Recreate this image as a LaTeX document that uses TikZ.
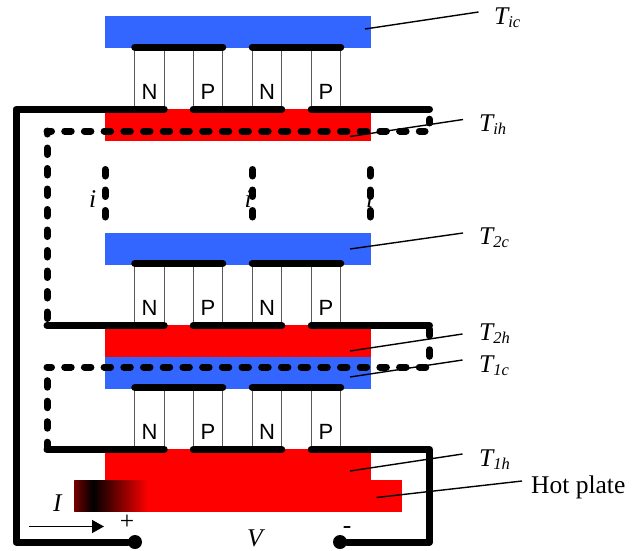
\documentclass[tikz,border=0pt]{standalone}
\usepackage{fontspec}
\setmainfont{Liberation Serif}
\setsansfont{Liberation Sans}
\usetikzlibrary{arrows.meta}
\definecolor{plateblue}{HTML}{3366FF}
\definecolor{platered}{HTML}{FF0000}
\newcommand{\Tsub}[1]{\textit{T}\kern-1.5pt\raisebox{-3.5pt}{\fontsize{16.5}{17}\selectfont\textit{#1}}}
\begin{document}
\begin{tikzpicture}[
  x=1pt, y=-1pt,
  coldplate/.style={fill=plateblue, minimum width=266pt, minimum height=32pt, inner sep=0pt, outer sep=0pt},
  hotplate/.style={fill=platered, minimum width=266pt, minimum height=32pt, inner sep=0pt, outer sep=0pt},
  legbox/.style={draw=black!65, line width=0.8pt, minimum width=29.5pt, minimum height=62pt, inner sep=0pt, outer sep=0pt},
  legtext/.style={anchor=base, inner sep=0pt, font=\sffamily\fontsize{22}{24}\selectfont},
  wire/.style={line width=7pt, line cap=round, line join=round},
  dashwire/.style={wire, dash pattern=on 6.5pt off 14pt},
  lead/.style={line width=1.4pt},
  tlabel/.style={anchor=base west, inner sep=0pt, font=\fontsize{25.5}{28}\selectfont},
  terminal/.style={circle, fill=black, minimum size=14pt, inner sep=0pt},
]
  \useasboundingbox (0,0) rectangle (638,550);
  % plates
  \node[coldplate] (C3) at (238,32) {};
  \node[hotplate] (H3) at (238,125) {};
  \node[coldplate] (C2) at (238,249) {};
  \node[hotplate] (H2) at (238,341) {};
  \node[coldplate] (C1) at (238,372.5) {};
  \node[hotplate, minimum height=32pt] (H1) at (238,465) {};
  \node[hotplate, minimum width=328pt] (base) at (238,496) {};
  \fill[left color=platered!45!black, right color=black] (74.5,480.5) rectangle (93,511.5);
  \fill[left color=black, right color=platered] (93,480.5) rectangle (148,511.5);
  % the three stages of legs
  \foreach \s/\y in {3/47.2, 2/263.5, 1/387.5} {
    \node[legbox] (Na\s) at (149.5,\y+31) {};
    \node[legbox] (Pa\s) at (208,\y+31) {};
    \node[legbox] (Nb\s) at (267,\y+31) {};
    \node[legbox] (Pb\s) at (326,\y+31) {};
    \node[legtext] (tNa\s) at (149.5,\y+52) {N};
    \node[legtext] (tPa\s) at (208,\y+52) {P};
    \node[legtext] (tNb\s) at (267,\y+52) {N};
    \node[legtext] (tPb\s) at (326,\y+52) {P};
    \draw[wire] (Na\s.north west) -- (Pa\s.north east);
    \draw[wire] (Nb\s.north west) -- (Pb\s.north east);
    \draw[wire] (Pa\s.south west) -- (Nb\s.south east);
  }
  % wires
  \node[terminal] (plus) at (135,542) {};
  \node[terminal] (minus) at (340,542) {};
  \coordinate (la) at (16,109.2);
  \coordinate (lb) at (16,542);
  \coordinate (ra) at (429.5,109.2);
  \coordinate (rb) at (429.5,325.5);
  \coordinate (rc) at (429.5,449.5);
  \coordinate (rd) at (429.5,542);
  \coordinate (ma) at (47,325.5);
  \coordinate (mb) at (47,449.5);
  \draw[wire] (plus) -- (lb) -- (la) -- (Na3.south east);
  \draw[wire] (Pb3.south west) -- (ra);
  \draw[wire] (ma) -- (Na2.south east);
  \draw[wire] (Pb2.south west) -- (rb);
  \draw[wire] (mb) -- (Na1.south east);
  \draw[wire] (Pb1.south west) -- (rc) -- (rd) -- (minus);
  % dashed returns
  \coordinate (da) at (47,131);
  \coordinate (db) at (425,131);
  \coordinate (dc) at (429.5,123);
  \coordinate (dd) at (47,367);
  \coordinate (de) at (426,367);
  \coordinate (df) at (429.5,367);
  \draw[wire, dash pattern=on 6.5pt off 13.2pt, dash phase=2pt] (da) -- (db);
  \draw[dashwire, dash phase=3.5pt] (da) -- (ma);
  \draw[dashwire, dash phase=10.5pt] (ra) -- (dc);
  \draw[wire, dash pattern=on 6.5pt off 13.2pt, dash phase=2pt] (dd) -- (de);
  \draw[dashwire, dash phase=6.8pt] (dd) -- (mb);
  \draw[dashwire, dash phase=16.75pt] (rb) -- (df);
  % current between the stages
  \node[tlabel] (ia) at (89,207) {\textit{i}};
  \node[tlabel] (ib) at (244.5,207) {\textit{i}};
  \node[tlabel] (ic) at (366,207) {\textit{i}};
  \foreach \n/\x in {a/105,b/252.5,c/370} {
    \coordinate (ga\n) at (\x,169.5);
    \coordinate (gb\n) at (\x,217.5);
    \draw[dashwire] (ga\n) -- (gb\n);
  }
  % temperature labels
  \node[tlabel] (Tic) at (494,24) {\Tsub{ic}};
  \node[tlabel] (Tih) at (479,131) {\Tsub{ih}};
  \node[tlabel] (Ttc) at (479,244) {\Tsub{2c}};
  \node[tlabel] (Tth) at (479,340) {\Tsub{2h}};
  \node[tlabel] (Toc) at (479,372) {\Tsub{1c}};
  \node[tlabel] (Toh) at (479,466) {\Tsub{1h}};
  \node[tlabel] (hot) at (531,493) {Hot plate};
  \foreach \a/\xa/\ya/\xb/\yb in {Tic/365/29/478.5/12, Tih/350/136.5/463/119.5, Ttc/350/249/463/233,
      Tth/350/351/462.5/334, Toc/350/377/462.5/360, Toh/350/471/462.5/454, hot/376.5/497.5/522/481} {
    \coordinate (s\a) at (\xa,\ya);
    \coordinate (e\a) at (\xb,\yb);
    \draw[lead] (s\a) -- (e\a);
  }
  % source
  \node[tlabel] (I) at (53,511) {\textit{I}};
  \node[tlabel] (V) at (247,546) {\textit{V}};
  \node[tlabel, anchor=center] (pl) at (127,522.5) {+};
  \node[tlabel, anchor=center] (mi) at (347,530) {-};
  \coordinate (ca) at (29,526.5);
  \coordinate (cb) at (104,526.5);
  \draw[line width=1.4pt, -{Triangle[length=12pt,width=13pt]}] (ca) -- (cb);
\end{tikzpicture}
\end{document}
